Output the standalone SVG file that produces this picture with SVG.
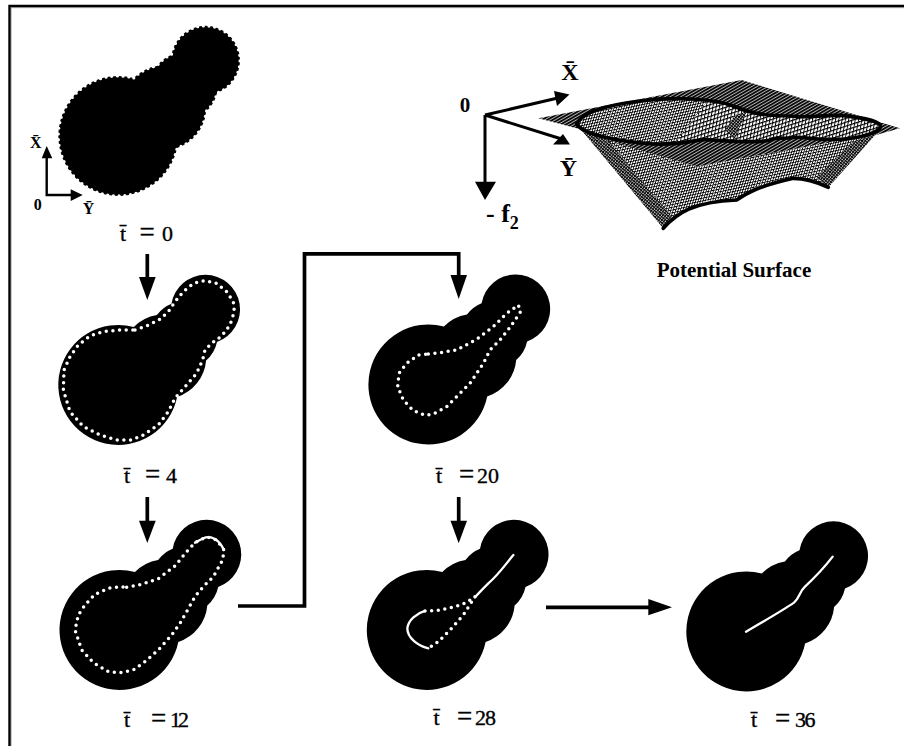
<svg xmlns="http://www.w3.org/2000/svg" width="904" height="746" viewBox="0 0 904 746">
<style>
.blob{fill:#000}
.lbl{font-family:"Liberation Serif","Times New Roman",serif;font-size:22px;fill:#000;stroke:#000;stroke-width:.35}
.eq{font-size:27px}
.ax{font-family:"Liberation Serif","Times New Roman",serif;font-weight:bold;fill:#000}
.dots{fill:none;stroke:#fff;stroke-width:10.5;stroke-linecap:round;stroke-dasharray:0 20;stroke-linejoin:round}
.solid{fill:none;stroke:#fff;stroke-width:7;stroke-linecap:round;stroke-linejoin:round}
.conn{fill:none;stroke:#000;stroke-width:3.7}
.ar{fill:#000;stroke:none}
.rim{fill:none;stroke:#000;stroke-width:11;stroke-linejoin:round;stroke-linecap:round}
</style>
<defs>
<path id="shape" d="M15.5 -58A42.3 42.3 0 0 1 38.6 -70A33.7 33.7 0 0 1 53.2 -81.3A34.5 34.5 0 1 1 98.7 -43.1A33.7 33.7 0 0 1 87.8 -24.6A42.3 42.3 0 0 1 58.8 11.9A60 60 0 1 1 15.5 -58Z"/>
<pattern id="dark" width="8" height="8" patternUnits="userSpaceOnUse" patternTransform="rotate(-30)">
<rect width="8" height="8" fill="#b5b5b5"/><path d="M0 2.5H8" stroke="#000" stroke-width="5"/>
</pattern>
<pattern id="mesh" width="11" height="11" patternUnits="userSpaceOnUse" patternTransform="rotate(-18) skewX(-28)">
<rect width="11" height="11" fill="#fff"/><path d="M0 1.6H11M1.6 0V11" stroke="#000" stroke-width="3.2"/>
</pattern>
<pattern id="side" width="8" height="8" patternUnits="userSpaceOnUse" patternTransform="rotate(-12) skewX(-30)">
<rect width="8" height="8" fill="#fff"/><path d="M0 1.3H8M1.3 0V8" stroke="#000" stroke-width="2.6"/>
</pattern>
<pattern id="sidedark" width="7" height="7" patternUnits="userSpaceOnUse" patternTransform="rotate(40)">
<rect width="7" height="7" fill="#ddd"/><path d="M0 1.6H7M1.6 0V7" stroke="#000" stroke-width="3"/>
</pattern>
</defs>
<path d="M11.2 746V7.7H904" fill="none" stroke="#b0b0b0" stroke-width="1"/>
<path id="frame" d="M9.5 746V6H904" fill="none" stroke="#000" stroke-width="2.4"/>
<g id="connectors">
<path class="conn" d="M147.3 254V278"/><path class="ar" d="M139 277H155.7L147.3 300Z"/>
<path class="conn" d="M147.3 497V522"/><path class="ar" d="M139 520.7H155.7L147.3 543Z"/>
<path class="conn" d="M238 606H304.5V253.8H458.7V276"/><path class="ar" d="M450.5 275H467L458.7 299Z"/>
<path class="conn" d="M458.7 497V522"/><path class="ar" d="M450.5 520.7H467L458.7 543.3Z"/>
<path class="conn" d="M546 607.3H650"/><path class="ar" d="M648.3 599V615.3L672 607.3Z"/>
</g>
<g id="t0">
<use href="#shape" class="blob" x="118.3" y="136"/>
<use href="#shape" x="118.3" y="136" fill="none" stroke="#fff" stroke-width="3.2" stroke-linecap="round" stroke-dasharray="0 5.7"/>
<text class="lbl" y="240.5"><tspan x="120">t̄</tspan> <tspan class="eq" x="139.5">=</tspan> <tspan x="162">0</tspan></text>
</g>
<g id="axes-small">
<path d="M46.7 156V195H72" fill="none" stroke="#000" stroke-width="2.4"/>
<path class="ar" d="M41.7 158.3H52.3L46.7 146ZM70.7 189.3V201L82.7 195Z"/>
<text class="ax" x="35.7" y="148.3" font-size="16" text-anchor="middle">X̄</text>
<text class="ax" x="37.7" y="210" font-size="16" text-anchor="middle">0</text>
<text class="ax" x="88.5" y="214" font-size="16" text-anchor="middle">Ȳ</text>
</g>
<g id="t4">
<use href="#shape" class="blob" x="118.3" y="385"/>
<path class="dots" transform="translate(40 260) scale(.3333)" d="M285 210L320 198L360 178L385 155L405 125L430 95L460 70L495 62L530 70L560 95L580 125L583 155L570 195L545 228L515 250L495 270L488 300L470 340L440 375L405 415L385 455L355 495L310 525L275 540L230 540L180 525L130 500L90 455L70 390L72 330L90 290L115 255L150 228L190 215L240 210Z" stroke-dasharray="0 17.5"/>
<text class="lbl" y="483"><tspan x="124">t̄</tspan> <tspan class="eq" x="145">=</tspan> <tspan x="166">4</tspan></text>
</g>
<g id="t12">
<use href="#shape" class="blob" x="119.5" y="630"/>
<path class="dots" transform="translate(40 480) scale(.3333)" d="M260 322L305 313L355 296L405 258L440 215L465 188L500 170L530 180L552 210L548 240L520 290L490 320L465 350L440 395L420 430L395 465L355 510L315 545L280 570L240 578L205 575L160 548L125 510L105 450L115 405L135 375L165 343L205 325L240 320Z"/>
<path class="solid" transform="translate(40 480) scale(.3333)" d="M465 188C485 178 500 165 520 175C535 180 545 195 552 210"/>
<text class="lbl" y="727"><tspan x="124">t̄</tspan> <tspan class="eq" x="151">=</tspan> <tspan x="170" letter-spacing="-3">12</tspan></text>
</g>
<g id="t20">
<use href="#shape" class="blob" x="428.4" y="384.6"/>
<path class="dots" transform="translate(350 250) scale(.3333)" d="M235 312L270 308L320 300L380 268L430 230L470 190L505 165L512 185L480 232L450 270L420 300L400 340L360 400L320 440L290 470L250 492L225 496L190 482L160 450L143 410L147 370L170 340L205 315Z" stroke-dasharray="0 17"/>
<text class="lbl" y="483"><tspan x="436">t̄</tspan> <tspan class="eq" x="459">=</tspan> <tspan x="477">20</tspan></text>
</g>
<g id="t28">
<use href="#shape" class="blob" x="426.8" y="630"/>
<path class="dots" transform="translate(350 490) scale(.3333)" d="M225 363L260 362L315 350L348 338L375 320M375 320L340 375L300 420L265 455L235 475" stroke-dasharray="0 18"/>
<path class="solid" transform="translate(350 490) scale(.3333)" d="M490 195C465 225 445 255 415 280C400 295 385 310 375 322M225 363C200 370 175 390 172 415C172 445 205 468 235 475"/>
<text class="lbl" y="724.5"><tspan x="433.5">t̄</tspan> <tspan class="eq" x="457">=</tspan> <tspan x="475" letter-spacing="-1">28</tspan></text>
</g>
<g id="t36">
<use href="#shape" class="blob" x="746.3" y="631.5"/>
<path class="solid" transform="translate(640 500) scale(.3333)" d="M318 395C370 365 430 330 462 308C478 295 478 275 495 260C525 232 555 200 578 170"/>
<text class="lbl" y="727"><tspan x="751">t̄</tspan> <tspan class="eq" x="775">=</tspan> <tspan x="795" letter-spacing="-1.5">36</tspan></text>
</g>
<g id="surface" transform="translate(440 30) scale(.3333)">
<path fill="url(#dark)" d="M295 265L905 150L1380 295L1290 320L1130 345L770 410L500 335L430 300Z"/>
<path fill="url(#side)" d="M420 295L670 595L720 550L800 512L890 510L950 470L1060 445L1120 450L1165 472L1310 310L1130 345L770 410L500 330Z"/>
<path fill="url(#sidedark)" d="M420 295L670 595L700 565L560 400L510 335Z"/>
<path fill="url(#sidedark)" d="M1165 472L1310 310L1240 335L1130 440Z"/>
<path id="rimfill" fill="url(#mesh)" d="M410 282C425 250 480 228 600 213C700 200 820 205 880 228C920 245 960 258 1050 258C1100 265 1140 255 1200 256C1270 262 1322 275 1322 290C1315 312 1240 330 1170 328C1120 330 1100 320 1060 322C1030 330 1010 318 990 330C960 340 880 335 790 328C750 335 720 345 640 342C540 335 430 315 410 282Z"/>
<path fill="url(#side)" d="M410 282C425 250 480 228 600 213C700 200 770 205 800 215L700 345L640 342C540 335 430 315 410 282Z"/>
<path fill="url(#sidedark)" d="M885 330L855 300L885 255L920 245L895 300Z"/>
<path class="rim" d="M410 282C425 250 480 228 600 213C700 200 820 205 880 228C920 245 960 258 1050 258C1100 265 1140 255 1200 256C1270 262 1322 275 1322 290C1315 312 1240 330 1170 328C1120 330 1100 320 1060 322C1030 330 1010 318 990 330C960 340 880 335 790 328C750 335 720 345 640 342C540 335 430 315 410 282Z"/>
<path class="rim" d="M670 595C710 550 760 515 890 510C920 490 950 470 1060 445C1100 445 1140 460 1165 472"/>
</g>
<g id="axes-large">
<path d="M485 115L560 97.5M485 115L560 138.5M485 115V183" fill="none" stroke="#000" stroke-width="3"/>
<path class="ar" d="M475 181.7H496L485 200ZM554 91L569.5 94.5L557 106ZM563 134L570 144.5H553Z"/>
<text class="ax" x="465" y="112" font-size="21" text-anchor="middle">0</text>
<text class="ax" x="570" y="80" font-size="24" text-anchor="middle">X̄</text>
<text class="ax" x="568.3" y="175.7" font-size="24" text-anchor="middle">Ȳ</text>
<text class="ax" x="486" y="221.5" font-size="26">- f<tspan font-size="18" dy="7">2</tspan></text>
<text class="ax" x="656.7" y="276.7" font-size="21">Potential Surface</text>
</g>
</svg>
